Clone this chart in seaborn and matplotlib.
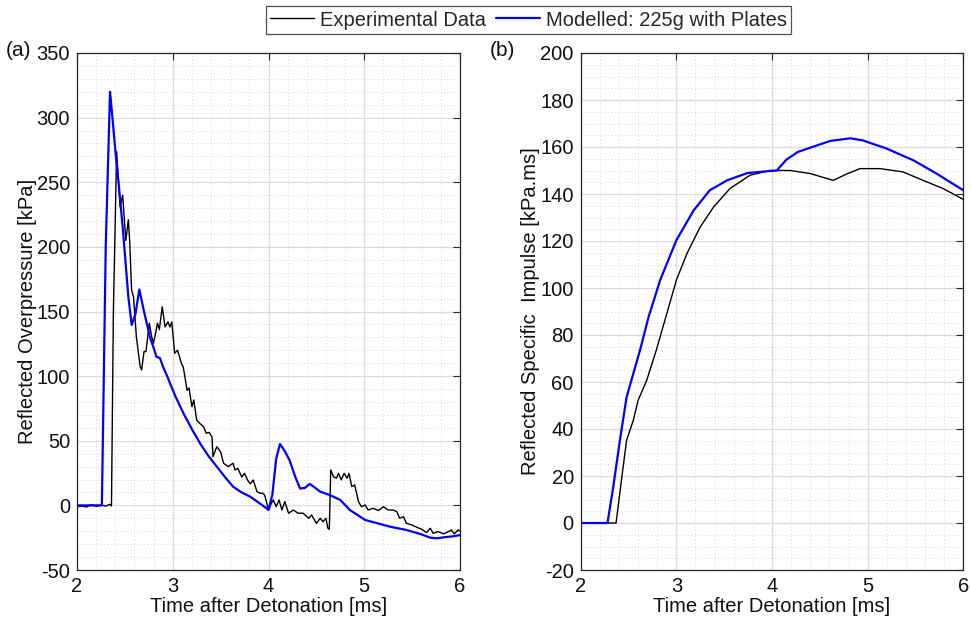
import numpy as np
import pandas as pd
import matplotlib
matplotlib.use("Agg")
import matplotlib.pyplot as plt
from matplotlib.ticker import MultipleLocator
import seaborn as sns

# ---------------- data ----------------
# (a) Reflected overpressure [kPa]
exp_p_t = [2.00, 2.05, 2.10, 2.15, 2.20, 2.25, 2.30, 2.34, 2.36, 2.38, 2.414, 2.45, 2.477, 2.51,
           2.536, 2.55, 2.57, 2.59, 2.62, 2.66, 2.675, 2.70, 2.72, 2.755, 2.78, 2.80, 2.84, 2.86,
           2.89, 2.92, 2.95, 2.97, 2.99, 3.02, 3.05, 3.08, 3.09, 3.11, 3.15, 3.17, 3.20, 3.22,
           3.25, 3.28, 3.32, 3.35, 3.38, 3.41, 3.42, 3.46, 3.50, 3.53, 3.58, 3.63, 3.65, 3.68,
           3.72, 3.75, 3.78, 3.81, 3.84, 3.88, 3.91, 3.94, 3.96, 4.00, 4.03, 4.05, 4.08, 4.11,
           4.14, 4.17, 4.21, 4.26, 4.31, 4.36, 4.42, 4.45, 4.50, 4.54, 4.57, 4.60, 4.62, 4.635,
           4.65, 4.68, 4.71, 4.73, 4.76, 4.79, 4.82, 4.84, 4.87, 4.90, 4.94, 4.97, 5.01, 5.04,
           5.09, 5.15, 5.20, 5.25, 5.30, 5.34, 5.37, 5.41, 5.44, 5.50, 5.55, 5.60, 5.65, 5.69,
           5.72, 5.77, 5.83, 5.88, 5.91, 5.94, 5.98, 6.00]
exp_p_v = [-1.0, -0.5, -1.2, 0.5, -0.8, 0.3, -0.6, 0.8, -0.5, 150.0, 273.6, 231.0, 240.0, 205.0,
           221.0, 205.0, 166.6, 161.5, 130.5, 107.0, 104.8, 119.0, 119.0, 141.0, 130.5, 125.6, 141.0, 136.0,
           153.7, 138.0, 142.0, 138.0, 142.0, 117.7, 120.0, 112.5, 110.0, 107.0, 89.0, 90.8, 76.4, 81.5,
           66.0, 63.6, 61.0, 55.8, 56.5, 53.0, 37.7, 45.4, 41.5, 32.6, 30.0, 32.6, 27.4, 28.7,
           22.0, 24.8, 19.7, 16.6, 19.7, 10.6, 9.4, 9.4, 8.0, -3.6, 1.6, 4.2, -1.0, 4.2,
           -3.6, 2.9, -6.1, -3.6, -6.1, -6.0, -10.0, -7.4, -13.9, -10.0, -12.6, -10.0, -17.7, -18.5,
           27.4, 22.0, 21.0, 24.8, 19.7, 24.8, 21.0, 24.8, 14.5, 15.8, 2.9, -1.0, 0.3, -3.6,
           -2.3, -4.0, -1.0, -3.6, -3.6, -4.8, -10.0, -8.7, -13.9, -15.2, -17.0, -18.5, -21.0, -17.7,
           -21.6, -20.3, -22.0, -20.3, -19.0, -22.0, -19.0, -20.0]

mod_p_t = [2.00, 2.26, 2.30, 2.345, 2.37, 2.40, 2.44, 2.48, 2.536, 2.571, 2.61, 2.651, 2.70, 2.745,
           2.76, 2.80, 2.83, 2.866, 2.90, 2.95, 2.97, 3.03, 3.11, 3.20, 3.285, 3.37, 3.46, 3.55,
           3.63, 3.72, 3.81, 3.90, 3.98, 4.00, 4.04, 4.08, 4.12, 4.17, 4.22, 4.28, 4.33, 4.38,
           4.43, 4.48, 4.54, 4.64, 4.75, 4.85, 5.01, 5.27, 5.44, 5.60, 5.69, 5.76, 5.83, 5.92, 6.00]
mod_p_v = [0.0, 0.0, 200.0, 320.0, 300.0, 275.0, 245.0, 213.0, 161.5, 139.6, 148.0, 167.0, 150.0, 135.7,
           130.5, 122.0, 115.0, 114.0, 107.0, 98.6, 94.7, 84.0, 71.5, 59.0, 48.0, 38.5, 30.0, 21.5,
           14.5, 10.0, 6.7, 2.0, -2.3, -3.6, 8.0, 36.0, 47.5, 42.0, 35.0, 22.0, 13.0, 13.5,
           16.6, 14.0, 10.6, 8.0, 4.2, -3.6, -11.3, -16.5, -19.0, -22.5, -25.0, -25.5, -24.7, -24.0, -23.0]

# (b) Reflected specific impulse [kPa.ms]
exp_i_t = [2.00, 2.37, 2.43, 2.48, 2.55, 2.60, 2.69, 2.79, 2.90, 3.00, 3.11, 3.25, 3.39, 3.56,
           3.77, 3.98, 4.19, 4.40, 4.64, 4.78, 4.92, 5.13, 5.37, 5.58, 5.79, 6.00]
exp_i_v = [0.0, 0.0, 19.6, 35.2, 43.7, 52.2, 60.7, 73.5, 89.1, 103.3, 114.6, 126.0, 134.5, 142.3,
           148.0, 150.0, 150.0, 148.7, 145.8, 148.5, 150.8, 150.8, 149.4, 145.8, 142.3, 137.7]

mod_i_t = [2.00, 2.28, 2.34, 2.41, 2.48, 2.53, 2.62, 2.71, 2.83, 3.00, 3.18, 3.35, 3.53, 3.74,
           3.98, 4.05, 4.15, 4.27, 4.40, 4.61, 4.82, 4.95, 5.20, 5.48, 5.72, 6.00]
mod_i_v = [0.0, 0.0, 15.3, 35.2, 53.6, 60.7, 73.5, 87.7, 103.3, 120.3, 133.0, 141.6, 145.8, 148.9,
           149.8, 150.0, 154.6, 157.9, 159.7, 162.6, 163.7, 162.8, 159.3, 154.3, 148.7, 141.6]

labels = ["Experimental Data", "Modelled: 225g with Plates"]
colors = {"Experimental Data": "black", "Modelled: 225g with Plates": "#0000ff"}

df_p = pd.concat([
    pd.DataFrame({"t": exp_p_t, "v": exp_p_v, "series": labels[0]}),
    pd.DataFrame({"t": mod_p_t, "v": mod_p_v, "series": labels[1]}),
])
df_i = pd.concat([
    pd.DataFrame({"t": exp_i_t, "v": exp_i_v, "series": labels[0]}),
    pd.DataFrame({"t": mod_i_t, "v": mod_i_v, "series": labels[1]}),
])

# ---------------- style ----------------
sns.set_style("white")
plt.rcParams["font.family"] = ["Liberation Sans", "DejaVu Sans"]
plt.rcParams["axes.edgecolor"] = "#262626"
plt.rcParams["axes.unicode_minus"] = False
plt.rcParams["xtick.direction"] = "in"
plt.rcParams["ytick.direction"] = "in"

FS = 14.5

fig = plt.figure(figsize=(9.72, 6.24), dpi=100)
axA = fig.add_axes([77 / 972, 1 - 570 / 624, (460 - 77) / 972, (570 - 53) / 624])
axB = fig.add_axes([580.7 / 972, 1 - 570 / 624, (963.3 - 580.7) / 972, (570 - 53) / 624])


def style_axis(ax, ylim, ymaj, ymin, ylabel):
    ax.set_xlim(2, 6)
    ax.set_ylim(*ylim)
    ax.xaxis.set_major_locator(MultipleLocator(1))
    ax.xaxis.set_minor_locator(MultipleLocator(0.2))
    ax.yaxis.set_major_locator(MultipleLocator(ymaj))
    ax.yaxis.set_minor_locator(MultipleLocator(ymin))
    ax.grid(which="major", color="#dcdcdc", linewidth=0.9, linestyle="-")
    ax.grid(which="minor", color="#c8c8c8", linewidth=0.6, linestyle=(0, (1, 3)))
    ax.set_axisbelow(True)
    ax.tick_params(which="major", length=5, width=0.8, top=True, right=True,
                   labelsize=FS, colors="#262626", labelcolor="#111111", pad=5)
    ax.tick_params(which="minor", length=0)
    for s in ax.spines.values():
        s.set_linewidth(0.9)
        s.set_color("#262626")
    ax.set_xlabel("Time after Detonation [ms]", fontsize=FS, color="#111111", labelpad=1)
    ax.set_ylabel(ylabel, fontsize=FS, color="#111111", labelpad=0)


for ax, df in ((axA, df_p), (axB, df_i)):
    for lab, lw in ((labels[0], 1.0), (labels[1], 1.6)):
        sub = df[df["series"] == lab]
        sns.lineplot(data=sub, x="t", y="v", ax=ax, color=colors[lab], linewidth=lw,
                     sort=False, estimator=None, label=lab, legend=False)

style_axis(axA, (-50, 350), 50, 10, "Reflected Overpressure [kPa]")
style_axis(axB, (-20, 200), 20, 5, "Reflected Specific  Impulse [kPa.ms]")

fig.text(6 / 972, 1 - 51 / 624, "(a)", fontsize=15, ha="left", va="center", color="#111111")
fig.text(490 / 972, 1 - 50 / 624, "(b)", fontsize=15, ha="left", va="center", color="#111111")

handles, lbls = axA.get_legend_handles_labels()
leg = fig.legend(handles, lbls, loc="center", bbox_to_anchor=(528.5 / 972, 1 - 20 / 624),
                 ncol=2, frameon=True, fancybox=False, fontsize=FS, handlelength=2.2,
                 handletextpad=0.3, columnspacing=0.5, borderpad=0.2, borderaxespad=0)
leg.get_frame().set_edgecolor("#262626")
leg.get_frame().set_linewidth(0.9)

fig.savefig("out.png", dpi=100)
